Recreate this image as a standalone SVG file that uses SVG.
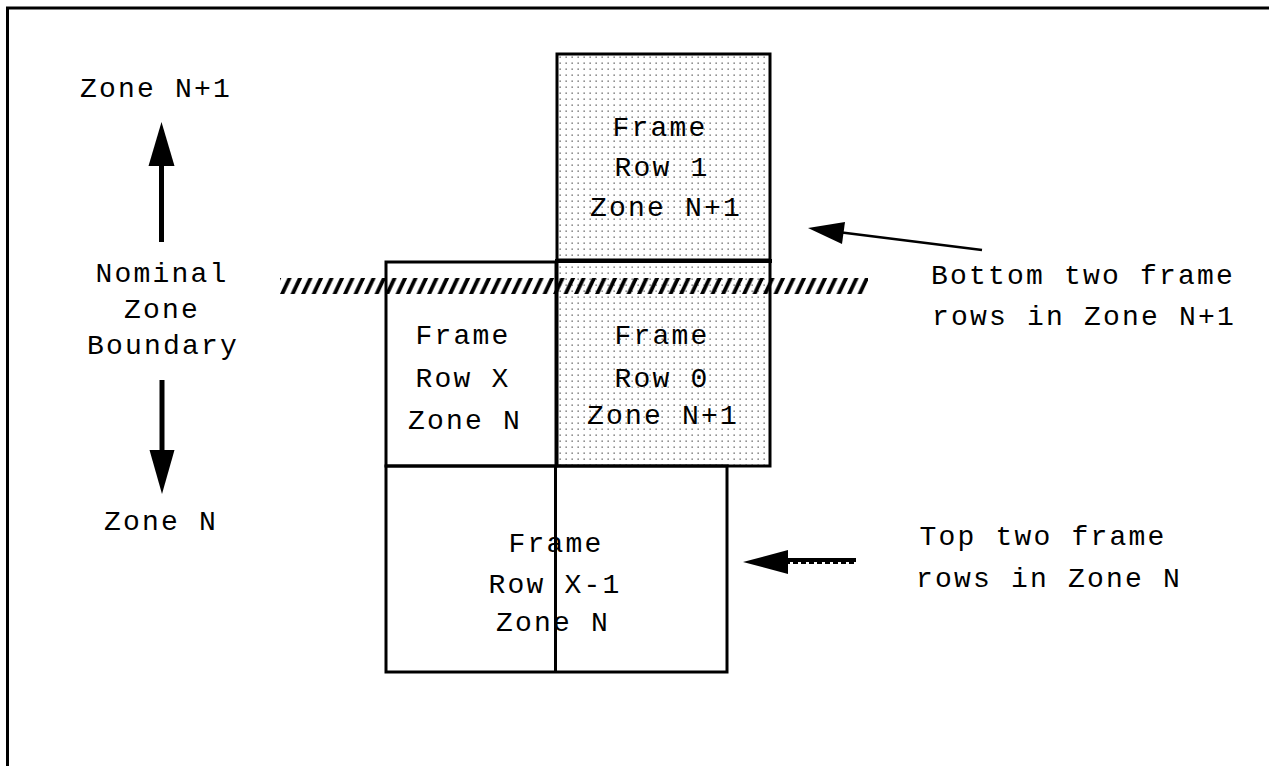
<svg xmlns="http://www.w3.org/2000/svg" width="1269" height="766" viewBox="0 0 1269 766">
<style>
text{font-family:"Liberation Mono","Courier New",monospace;font-size:28px;fill:#000;text-anchor:middle;letter-spacing:2.2px}
.box{stroke:#000;stroke-width:3;fill:none}
.dot{stroke:#000;stroke-width:3;fill:url(#dots)}
.arr{stroke:#000;stroke-width:5;fill:none}
</style>
<defs>
<pattern id="dots" patternUnits="userSpaceOnUse" x="557" y="54" width="6" height="6">
<rect x="2.5" y="2.5" width="1.3" height="1.3" fill="#555"/>
</pattern>
<pattern id="hatch" patternUnits="userSpaceOnUse" x="280" y="278" width="10.5" height="16">
<polygon points="0,16 4.2,16 11.7,0 7.5,0" fill="#000"/>
<polygon points="-10.5,16 -6.3,16 1.2,0 -3,0" fill="#000"/>
</pattern>
</defs>
<rect width="1269" height="766" fill="#fff"/>
<polyline points="7.5,766 7.5,8 1269,8" fill="none" stroke="#000" stroke-width="3"/>
<g id="row1">
<rect x="557" y="54" width="213" height="206" class="dot"/>
<text x="660" y="136">Frame</text>
<text x="662" y="176">Row 1</text>
<text x="666" y="216">Zone N+1</text>
</g>
<g id="row0">
<rect x="557" y="261" width="213" height="205" class="dot"/>
<line x1="555" y1="261" x2="772" y2="261" stroke="#000" stroke-width="4"/>
<text x="662" y="344">Frame</text>
<text x="662" y="387">Row 0</text>
<text x="663" y="424">Zone N+1</text>
</g>
<g id="rowX">
<rect x="386" y="262" width="170" height="204" class="box"/>
<text x="463" y="344">Frame</text>
<text x="463" y="387">Row X</text>
<text x="465" y="429">Zone N</text>
</g>
<g id="rowX-1">
<rect x="386" y="466" width="341" height="206" class="box"/>
<line x1="555.5" y1="466" x2="555.5" y2="672" stroke="#000" stroke-width="3"/>
<text x="556" y="552">Frame</text>
<text x="555" y="593">Row X-1</text>
<text x="553" y="631">Zone N</text>
</g>
<g id="boundary">
<rect x="280" y="278" width="588" height="16" fill="url(#hatch)"/>
</g>
<g id="labels">
<text x="156" y="97">Zone N+1</text>
<text x="162" y="282">Nominal</text>
<text x="162" y="318">Zone</text>
<text x="163" y="354">Boundary</text>
<text x="161" y="530">Zone N</text>
<text x="1083" y="284">Bottom two frame</text>
<text x="1084" y="325">rows in Zone N+1</text>
<text x="1043" y="545">Top two frame</text>
<text x="1049" y="587">rows in Zone N</text>
</g>
<g id="connectors">
<line x1="161.5" y1="242" x2="161.5" y2="160" class="arr"/>
<polygon points="161.5,122 148.5,166 174.5,166" fill="#000"/>
<line x1="162" y1="380" x2="162" y2="456" class="arr"/>
<polygon points="162,494 149.5,450 174.5,450" fill="#000"/>
<line x1="982" y1="250" x2="838" y2="232" stroke="#000" stroke-width="2.7"/>
<polygon points="808,228 845,222 842,244" fill="#000"/>
<line x1="785" y1="560" x2="856" y2="560" stroke="#000" stroke-width="4"/>
<line x1="785" y1="563" x2="856" y2="563" stroke="#000" stroke-width="2" stroke-dasharray="5,3"/>
<polygon points="743,562 788,550 788,574" fill="#000"/>
</g>
</svg>
